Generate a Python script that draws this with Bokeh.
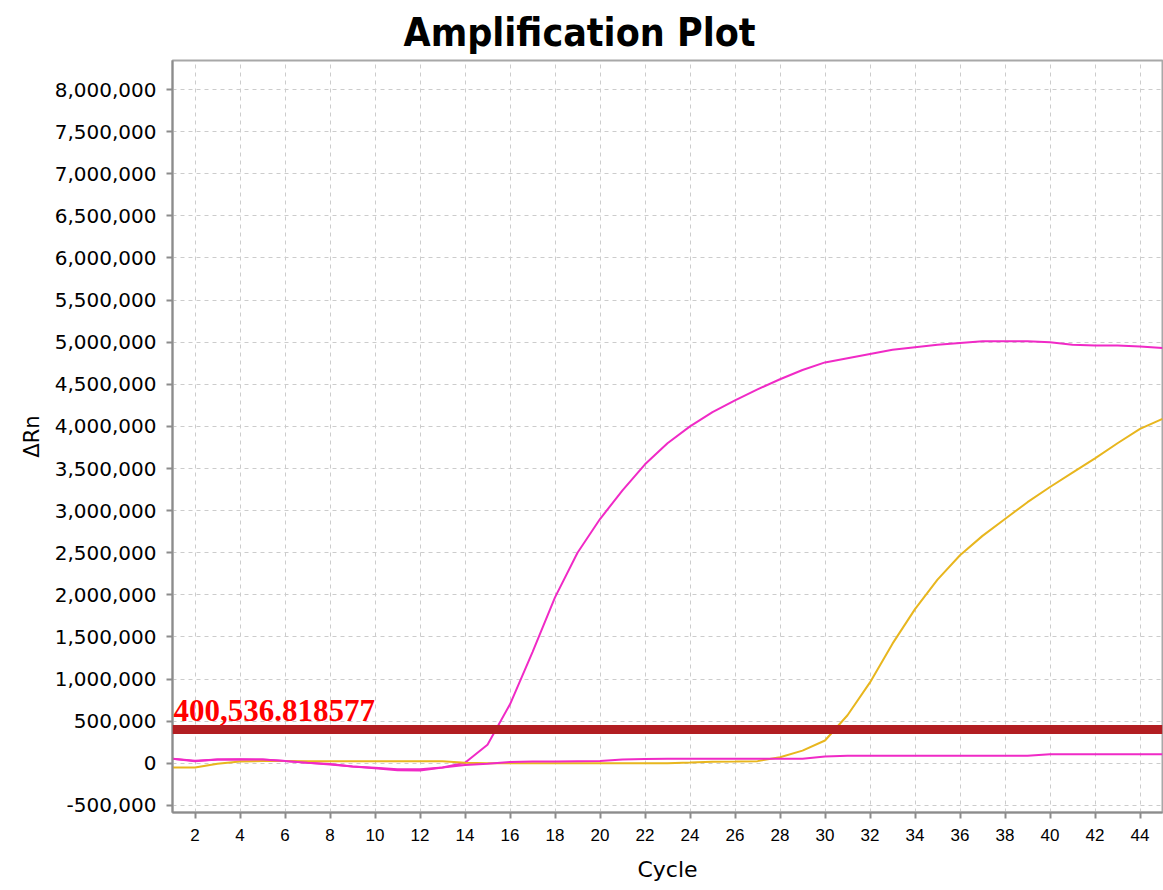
from bokeh.plotting import figure
from bokeh.models import Range1d, FixedTicker, NumeralTickFormatter, Span, Label
from bokeh.embed import file_html
from bokeh.resources import INLINE

cycles = list(range(1, 46))

magenta_high = [52e3, 24e3, 44e3, 48e3, 44e3, 28e3, 5e3, -10e3, -40e3, -60e3,
                -82e3, -85e3, -50e3, 5e3, 220e3, 700e3, 1.32e6, 1.97e6, 2.50e6, 2.90e6,
                3.24e6, 3.55e6, 3.80e6, 4.00e6, 4.17e6, 4.31e6, 4.44e6, 4.56e6, 4.67e6, 4.76e6,
                4.81e6, 4.86e6, 4.91e6, 4.94e6, 4.97e6, 4.99e6, 5.01e6, 5.01e6, 5.01e6, 5.00e6,
                4.97e6, 4.96e6, 4.96e6, 4.95e6, 4.93e6]

magenta_low = [52e3, 30e3, 44e3, 44e3, 44e3, 26e3, 5e3, -15e3, -40e3, -55e3,
               -70e3, -72e3, -50e3, -20e3, -5e3, 15e3, 20e3, 22e3, 24e3, 26e3,
               45e3, 50e3, 52e3, 52e3, 52e3, 52e3, 52e3, 52e3, 52e3, 80e3,
               88e3, 88e3, 88e3, 88e3, 88e3, 88e3, 88e3, 88e3, 88e3, 108e3,
               108e3, 108e3, 108e3, 108e3, 108e3]

yellow = [-50e3, -50e3, -5e3, 22e3, 26e3, 26e3, 25e3, 25e3, 25e3, 25e3,
          25e3, 25e3, 25e3, 5e3, 0, 0, 0, 0, 0, 0,
          0, 0, 0, 8e3, 18e3, 20e3, 25e3, 72e3, 150e3, 270e3,
          570e3, 960e3, 1.42e6, 1.83e6, 2.18e6, 2.47e6, 2.70e6, 2.90e6, 3.10e6, 3.28e6,
          3.45e6, 3.62e6, 3.80e6, 3.97e6, 4.09e6]

threshold = 400536.818577
threshold_label = "400,536.818577"

x_ticks = list(range(2, 46, 2))
y_ticks = [v * 500000 for v in range(-1, 17)]

p = figure(frame_width=990, frame_height=752, output_backend="svg", toolbar_location=None,
           x_range=Range1d(1, 45), y_range=Range1d(-585000, 8345000),
           min_border_left=172, min_border_right=1, min_border_top=60, min_border_bottom=78,
           background_fill_color="white", border_fill_color="white")

p.title.text = "Amplification Plot"
p.title.align = "left"
p.title.offset = 231
p.title.text_font = "'Liberation Sans Narrow', 'DejaVu Sans Condensed', sans-serif"
p.title.text_font_style = "bold"
p.title.text_font_size = "39px"
p.title.text_line_height = 0.85
p.title.text_color = "black"
p.title.standoff = 12

p.outline_line_color = "#A8A8A8"
p.outline_line_width = 2

for ax in (p.xaxis[0], p.yaxis[0]):
    ax.axis_line_color = "#8C8C8C"
    ax.axis_line_width = 2
    ax.major_tick_line_color = "#8C8C8C"
    ax.major_tick_line_width = 2
    ax.major_tick_out = 6
    ax.major_tick_in = 0
    ax.minor_tick_line_color = None
    ax.major_label_text_color = "black"
    ax.axis_label_text_color = "black"
    ax.axis_label_text_font_style = "normal"

p.xaxis.ticker = FixedTicker(ticks=x_ticks)
p.yaxis.ticker = FixedTicker(ticks=y_ticks)
p.yaxis.formatter = NumeralTickFormatter(format="0,0")

p.xaxis.major_label_text_font = "Liberation Sans"
p.xaxis.major_label_text_font_size = "17px"
p.xaxis.major_label_standoff = 10
p.yaxis.major_label_text_font = "DejaVu Sans"
p.yaxis.major_label_text_font_size = "20px"
p.yaxis.major_label_standoff = 10

p.xaxis.axis_label = "Cycle"
p.xaxis.axis_label_text_font = "DejaVu Sans"
p.xaxis.axis_label_text_font_size = "22px"
p.xaxis.axis_label_standoff = 13
p.yaxis.axis_label = "ΔRn"
p.yaxis.axis_label_text_font = "DejaVu Sans"
p.yaxis.axis_label_text_font_size = "21px"
p.yaxis.axis_label_standoff = 8

p.grid.grid_line_color = "#CCCCCC"
p.grid.grid_line_dash = "4 4"
p.grid.grid_line_width = 1

magenta = "#F02AC6"
gold = "#E8B61E"
p.line(cycles, magenta_high, line_color=magenta, line_width=2)
p.line(cycles, yellow, line_color=gold, line_width=2)
p.line(cycles, magenta_low, line_color=magenta, line_width=2)

p.add_layout(Span(location=threshold, dimension="width", line_color="#B21E22", line_width=9))
p.add_layout(Label(x=1, y=threshold, text=threshold_label, text_color="#FF0000",
                   text_font="Liberation Serif", text_font_style="bold", text_font_size="31px",
                   text_baseline="middle", x_offset=1, y_offset=19))

open("out.html", "w").write(file_html(p, INLINE))
